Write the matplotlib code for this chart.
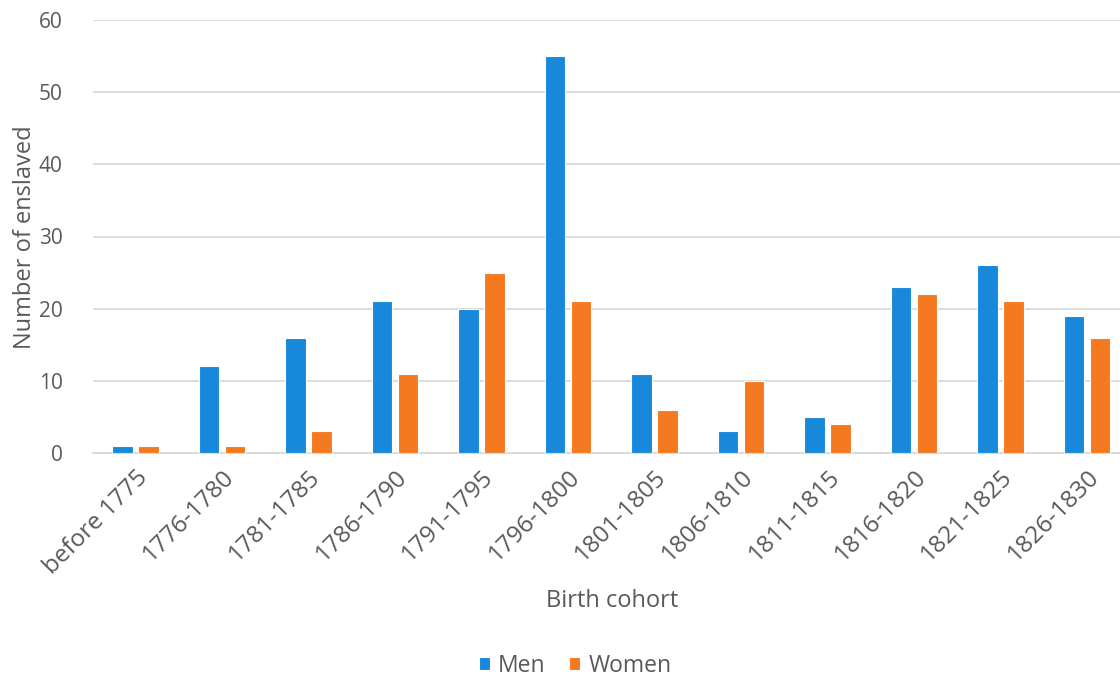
import matplotlib
matplotlib.use("Agg")
import matplotlib.pyplot as plt
import numpy as np

categories = ["before 1775", "1776-1780", "1781-1785", "1786-1790", "1791-1795",
              "1796-1800", "1801-1805", "1806-1810", "1811-1815", "1816-1820",
              "1821-1825", "1826-1830"]
men = [1, 12, 16, 21, 20, 55, 11, 3, 5, 23, 26, 19]
women = [1, 1, 3, 11, 25, 21, 6, 10, 4, 22, 21, 16]

plt.rcParams['font.family'] = ['Open Sans', 'DejaVu Sans']
txt = '#595959'
blue = '#1788DA'
orange = '#F47920'

fig = plt.figure(figsize=(11.2, 6.79), dpi=100)
ax = fig.add_axes([93/1120, 1-453/679, (1120-93)/1120, (453-20)/679])

x = np.arange(len(categories))
w = 0.235
off = 0.15
ax.bar(x - off, men, w, color=blue, edgecolor='white', linewidth=0.8, label='Men', zorder=3)
ax.bar(x + off, women, w, color=orange, edgecolor='white', linewidth=0.8, label='Women', zorder=3)

ax.set_ylim(0, 60)
ax.set_yticks(range(0, 61, 10))
ax.set_xlim(-0.49, 11.38)
ax.set_xticks(x)
ax.set_xticklabels(categories, rotation=45, ha='right', rotation_mode='anchor',
                   fontsize=17.5, color=txt)
ax.tick_params(axis='x', length=0, pad=9)
ax.tick_params(axis='y', length=0, pad=22, labelsize=15, labelcolor=txt)
ax.grid(axis='y', color='#D9D9D9', linewidth=1.3, zorder=0)
for s in ['top', 'right', 'left']:
    ax.spines[s].set_visible(False)
ax.spines['bottom'].set_color('#D9D9D9')
ax.spines['bottom'].set_linewidth(1.3)

fig.text(612/1120, 1-601/679, 'Birth cohort', ha='center', va='center', fontsize=17, color=txt)
fig.text(25/1120, 1-237/679, 'Number of enslaved', ha='center', va='center', rotation=90,
         fontsize=17, color=txt)

leg = fig.legend(loc='center', bbox_to_anchor=(575/1120, 1-666/679), ncol=2, frameon=False,
                 fontsize=16.5, handlelength=0.5, handleheight=0.5, handletextpad=0.35,
                 columnspacing=1.0, borderpad=0.1)
for t in leg.get_texts():
    t.set_color(txt)

fig.savefig('out.png', dpi=100)
